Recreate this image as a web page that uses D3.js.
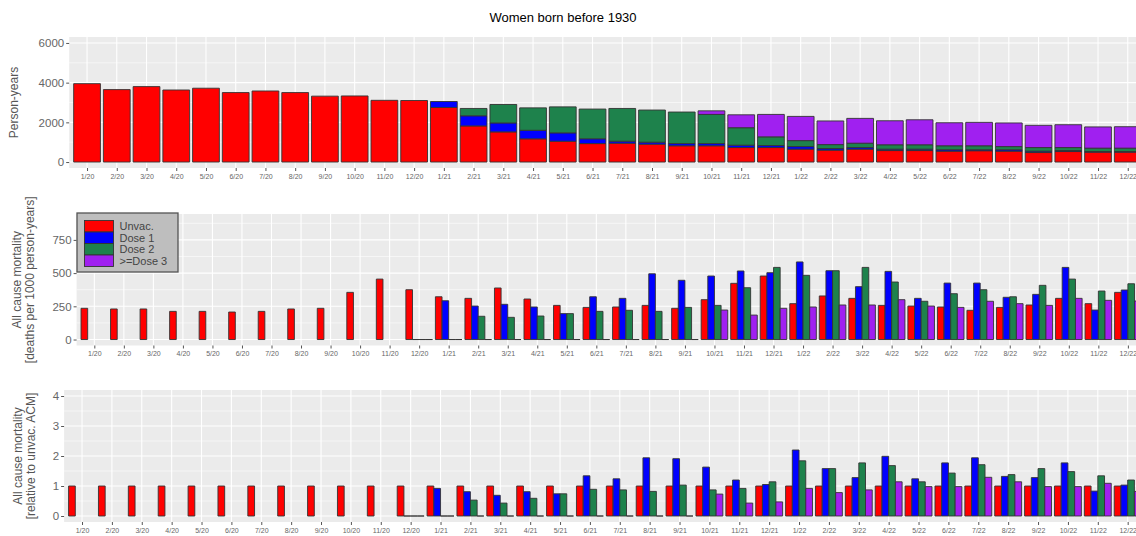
<!DOCTYPE html>
<html>
<head>
<meta charset="utf-8">
<script src="https://cdn.jsdelivr.net/npm/d3@7"></script>
<style>
  body { margin: 0; background: #fff; }
  svg { display: block; font-family: "Liberation Sans", Arial, sans-serif; }
</style>
</head>
<body>
<svg width="1136" height="536"></svg>
<script>
// month categories
const months = ["1/20","2/20","3/20","4/20","5/20","6/20","7/20","8/20","9/20","10/20","11/20","12/20",
                "1/21","2/21","3/21","4/21","5/21","6/21","7/21","8/21","9/21","10/21","11/21","12/21",
                "1/22","2/22","3/22","4/22","5/22","6/22","7/22","8/22","9/22","10/22","11/22","12/22"];
const groups = ["Unvac.", "Dose 1", "Dose 2", ">=Dose 3"];
const colors = ["#ff0000", "#0000ff", "#1e824c", "#a020f0"];

// person-years (stacked)
const pyUnvac = [3950,3650,3800,3630,3720,3500,3580,3500,3320,3330,3110,3100,
                 2750,1820,1520,1170,1050,930,950,900,820,820,730,730,
                 650,600,650,580,580,550,570,550,480,530,500,500];
const pyDose1 = [0,0,0,0,0,0,0,0,0,0,0,0,
                 300,510,450,430,420,240,100,100,110,110,120,100,
                 130,80,80,70,70,70,50,70,70,50,30,30];
const pyDose2 = [0,0,0,0,0,0,0,0,0,0,0,0,
                 0,370,930,1130,1310,1500,1650,1620,1590,1470,880,440,
                 300,200,220,220,220,200,200,160,180,150,170,170];
const pyDose3 = [0,0,0,0,0,0,0,0,0,0,0,0,
                 0,0,0,0,0,0,0,0,0,180,650,1130,
                 1220,1190,1250,1210,1260,1160,1180,1190,1120,1150,1070,1080];

// all cause mortality, deaths per 1000 person-years
const acmUnvac = [235,230,230,212,212,207,212,230,235,355,455,375,
                  322,310,388,305,257,242,245,257,235,300,423,478,
                  270,328,310,257,252,245,220,242,260,310,270,355];
const acmDose1 = [null,null,null,null,null,null,null,null,null,null,null,0,
                  292,252,265,245,195,322,310,495,446,478,516,503,
                  584,518,398,513,310,425,425,318,340,543,222,373];
const acmDose2 = [null,null,null,null,null,null,null,null,null,null,null,0,
                  0,175,167,177,195,212,220,212,242,257,390,543,
                  483,518,543,433,288,345,375,322,408,455,365,420];
const acmDose3 = [null,null,null,null,null,null,null,null,null,null,null,0,
                  0,0,0,0,0,0,0,0,0,222,184,235,
                  245,260,260,300,252,242,288,270,257,310,295,290];

// all cause mortality relative to unvaccinated
const relUnvac = [1,1,1,1,1,1,1,1,1,1,1,1,
                  1,1,1,1,1,1,1,1,1,1,1,1,
                  1,1,1,1,1,1,1,1,1,1,1,1];
const relDose1 = [null,null,null,null,null,null,null,null,null,null,null,0,
                  0.92,0.81,0.69,0.81,0.74,1.34,1.24,1.94,1.91,1.63,1.2,1.05,
                  2.2,1.58,1.28,1.99,1.24,1.77,1.94,1.32,1.28,1.77,0.83,1.03];
const relDose2 = [null,null,null,null,null,null,null,null,null,null,null,0,
                  0,0.53,0.43,0.59,0.74,0.89,0.87,0.82,1.03,0.87,0.92,1.14,
                  1.84,1.58,1.77,1.68,1.14,1.43,1.71,1.38,1.58,1.48,1.34,1.2];
const relDose3 = [null,null,null,null,null,null,null,null,null,null,null,0,
                  0,0,0,0,0,0,0,0,0,0.73,0.43,0.47,
                  0.92,0.78,0.87,1.14,0.98,0.98,1.29,1.14,0.98,0.98,1.09,0.82];

const svg = d3.select("svg");
const rightEdge = 1145.6;

svg.append("text")
    .attr("x", 563).attr("y", 22)
    .attr("text-anchor", "middle")
    .attr("font-size", "13px")
    .attr("fill", "#000")
    .text("Women born before 1930");

// bar outline as a path, so zero-height bars still show as a line
function barPath(x0, w, y0, y1) {
    return `M${x0},${y0}L${x0},${y1}L${x0 + w},${y1}L${x0 + w},${y0}Z`;
}

function drawPanel(p) {
    const x = d3.scalePoint().domain(months).range([p.left, rightEdge]).padding(0.6);
    const y = d3.scaleLinear().domain(p.domain).range([p.bottom, p.top]);
    const step = x.step();
    const g = svg.append("g");

    g.append("rect")
        .attr("x", p.left).attr("y", p.top)
        .attr("width", rightEdge - p.left).attr("height", p.bottom - p.top)
        .attr("fill", "#ebebeb");

    // grid
    g.selectAll(".minor").data(p.minor).enter().append("line")
        .attr("x1", p.left).attr("x2", rightEdge)
        .attr("y1", d => y(d)).attr("y2", d => y(d))
        .attr("stroke", "#fff").attr("stroke-width", 0.55);
    g.selectAll(".major").data(p.ticks).enter().append("line")
        .attr("x1", p.left).attr("x2", rightEdge)
        .attr("y1", d => y(d)).attr("y2", d => y(d))
        .attr("stroke", "#fff").attr("stroke-width", 1.1);
    g.selectAll(".vgrid").data(months).enter().append("line")
        .attr("x1", d => x(d)).attr("x2", d => x(d))
        .attr("y1", p.top).attr("y2", p.bottom)
        .attr("stroke", "#fff").attr("stroke-width", 1.1);

    // bars
    const bars = [];
    if (p.stacked) {
        months.forEach((m, i) => {
            let base = 0;
            p.series.forEach((s, k) => {
                const v = s[i];
                if (v > 0) {
                    bars.push({x0: x(m) - 0.45 * step, w: 0.9 * step, y0: base, y1: base + v, k: k});
                }
                base += v;
            });
        });
    } else {
        const w = 0.9 * step / p.series.length;
        months.forEach((m, i) => {
            p.series.forEach((s, k) => {
                const v = s[i];
                if (v !== null) {
                    bars.push({x0: x(m) - 0.45 * step + k * w, w: w, y0: 0, y1: v, k: k});
                }
            });
        });
    }
    g.selectAll(".bar").data(bars).enter().append("path")
        .attr("d", d => barPath(d.x0, d.w, y(d.y0), y(d.y1)))
        .attr("fill", d => colors[d.k])
        .attr("stroke", "#333")
        .attr("stroke-width", 0.9);

    // axes
    const yAxis = g.append("g")
        .attr("transform", `translate(${p.left},0)`)
        .call(d3.axisLeft(y).tickValues(p.ticks).tickFormat(d3.format("d")).tickSize(3).tickPadding(2));
    yAxis.select(".domain").remove();
    yAxis.selectAll("line").attr("stroke", "#555");
    yAxis.selectAll("text").attr("font-size", "11.5px").attr("fill", "#666")
        .attr("font-family", "Liberation Sans, Arial, sans-serif");

    const xAxis = g.append("g")
        .attr("transform", `translate(0,${p.bottom})`)
        .call(d3.axisBottom(x).tickSize(3).tickPadding(3));
    xAxis.select(".domain").remove();
    xAxis.selectAll("line").attr("stroke", "#555");
    xAxis.selectAll("text").attr("font-size", "7px").attr("fill", "#666")
        .attr("font-family", "Liberation Sans, Arial, sans-serif");

    // y title
    const title = g.append("text")
        .attr("transform", `translate(${p.titleX},${(p.top + p.bottom) / 2}) rotate(-90)`)
        .attr("text-anchor", "middle")
        .attr("font-size", "12px")
        .attr("fill", "#555");
    p.title.forEach((line, i) => {
        title.append("tspan").attr("x", 0).attr("dy", i === 0 ? 0 : "1.05em").text(line);
    });
}

drawPanel({
    left: 69.2, top: 37, bottom: 168,
    domain: [-300, 6300], ticks: [0, 2000, 4000, 6000], minor: [1000, 3000, 5000],
    stacked: true, series: [pyUnvac, pyDose1, pyDose2, pyDose3],
    title: ["Person-years"], titleX: 18
});

drawPanel({
    left: 76.6, top: 214, bottom: 345.5,
    domain: [-45, 945], ticks: [0, 250, 500, 750], minor: [125, 375, 625, 875],
    stacked: false, series: [acmUnvac, acmDose1, acmDose2, acmDose3],
    title: ["All cause mortality", "[deaths per 1000 person-years]"], titleX: 21
});

drawPanel({
    left: 64.1, top: 390, bottom: 522,
    domain: [-0.2, 4.2], ticks: [0, 1, 2, 3, 4], minor: [0.5, 1.5, 2.5, 3.5],
    stacked: false, series: [relUnvac, relDose1, relDose2, relDose3],
    title: ["All cause mortality", "[relative to unvac. ACM]"], titleX: 22
});

// legend inside the middle panel
const legend = svg.append("g").attr("transform", "translate(77,213)");
legend.append("rect")
    .attr("width", 101).attr("height", 59)
    .attr("fill", "#bebebe").attr("stroke", "#555").attr("stroke-width", 1.3);
const keyH = 11.5;
const items = legend.selectAll(".key").data(groups).enter().append("g")
    .attr("transform", (d, i) => `translate(7.5,${7.5 + i * keyH})`);
items.append("rect")
    .attr("width", 29).attr("height", keyH)
    .attr("fill", (d, i) => colors[i])
    .attr("stroke", "#333").attr("stroke-width", 0.9);
items.append("text")
    .attr("x", 35).attr("y", keyH / 2 + 3.8)
    .attr("font-size", "11px").attr("fill", "#444")
    .text(d => d);
</script>
</body>
</html>
